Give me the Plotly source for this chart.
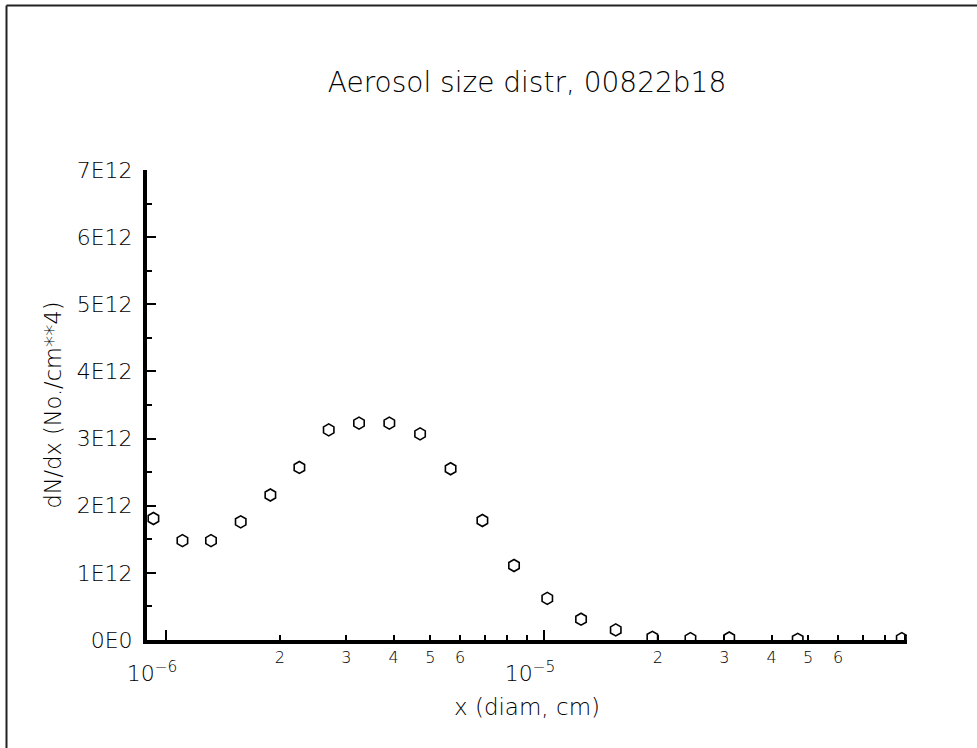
import numpy as np
import plotly.graph_objects as go

# ---- data ----
x_diam = [0.926e-6, 1.105e-6, 1.315e-6, 1.576e-6, 1.888e-6, 2.253e-6, 2.694e-6,
          3.24e-6, 3.897e-6, 4.70e-6, 5.66e-6, 6.87e-6, 8.33e-6, 1.02e-5,
          1.253e-5, 1.548e-5, 1.935e-5, 2.44e-5, 3.09e-5, 4.69e-5, 8.84e-5]
dndx_e12 = [1.81, 1.48, 1.48, 1.76, 2.16, 2.57, 3.13, 3.23, 3.23, 3.07, 2.55,
            1.78, 1.11, 0.62, 0.31, 0.15, 0.04, 0.02, 0.03, 0.01, 0.02]
dndx = [v * 1e12 for v in dndx_e12]

y_tick_vals = [0, 1e12, 2e12, 3e12, 4e12, 5e12, 6e12, 7e12]
y_tick_text = ["0E0", "1E12", "2E12", "3E12", "4E12", "5E12", "6E12", "7E12"]
y_minor_vals = [0.5e12, 1.5e12, 2.5e12, 3.5e12, 4.5e12, 5.5e12, 6.5e12]

x_label_vals = [2e-6, 3e-6, 4e-6, 5e-6, 6e-6, 2e-5, 3e-5, 4e-5, 5e-5, 6e-5]
x_label_text = ["2", "3", "4", "5", "6", "2", "3", "4", "5", "6"]
x_unlabeled_vals = [7e-6, 8e-6, 9e-6, 7e-5, 8e-5, 9e-5]
x_decades = [1e-6, 1e-5]
x_decade_text = ["10<sup>−6</sup>", "10<sup>−5</sup>"]
x_range = [0.8905e-6, 9.127e-5]
y_range = [0, 7e12]

title_text = "Aerosol size distr, 00822b18"
x_title = "x (diam, cm)"
y_title = "dN/dx (No./cm**4)"

# ---- layout geometry ----
W, H = 977, 748
ML, MR, MT, MB = 147, 70, 170, 108
PW, PH = W - ML - MR, H - MT - MB


def px2paper(px, py):
    return (px - ML) / PW, (H - MB - py) / PH


FONT = "DejaVu Sans"
WT = 200


def f(size):
    return dict(family=FONT, size=size, color="black", weight=WT)


log_range = [np.log10(x_range[0]), np.log10(x_range[1])]

fig = go.Figure()
fig.add_trace(go.Scatter(
    x=x_diam, y=dndx, mode="markers",
    marker=dict(symbol="hexagon-open", size=12, color="black",
                line=dict(width=1.6, color="black")),
    showlegend=False, cliponaxis=True,
))
# invisible carrier trace for the decade-tick axis
fig.add_trace(go.Scatter(x=[x_range[0]], y=[0], xaxis="x2", yaxis="y",
                         mode="markers", marker=dict(opacity=0),
                         showlegend=False, hoverinfo="skip"))

fig.update_layout(
    xaxis=dict(
        type="log", range=log_range,
        tickmode="array", tickvals=x_label_vals, ticktext=x_label_text,
        ticks="inside", ticklen=5, tickwidth=1.5, tickcolor="black",
        minor=dict(tickmode="array", tickvals=x_unlabeled_vals, ticks="inside",
                   ticklen=5, tickwidth=1.5, tickcolor="black"),
        tickfont=f(16),
        ticklabelstandoff=0,
        showline=True, linewidth=4, linecolor="black",
        showgrid=False, zeroline=False,
        title=dict(text=x_title, font=f(23), standoff=34),
    ),
    xaxis2=dict(
        type="log", range=log_range, overlaying="x", anchor="y", side="bottom",
        tickmode="array", tickvals=x_decades, ticktext=x_decade_text,
        ticks="inside", ticklen=10, tickwidth=1.5, tickcolor="black",
        tickfont=f(22),
        ticklabelstandoff=18, ticklabelshift=-14,
        showline=False, showgrid=False, zeroline=False,
    ),
    yaxis=dict(
        range=y_range, tickmode="array", tickvals=y_tick_vals, ticktext=y_tick_text,
        ticks="inside", ticklen=9, tickwidth=1.5, tickcolor="black",
        minor=dict(tickmode="array", tickvals=y_minor_vals, ticks="inside",
                   ticklen=5, tickwidth=1.5, tickcolor="black"),
        tickfont=f(22),
        ticklabelstandoff=6,
        showline=True, linewidth=4, linecolor="black",
        showgrid=False, zeroline=False,
        title=dict(text=y_title, font=f(22.5), standoff=10),
    ),
)

# outer frame (left and top edges)
x0, y0 = px2paper(6.5, 5.5)
x1, y1 = px2paper(1100, 900)
fig.add_shape(type="line", xref="paper", yref="paper", x0=x0, y0=y0, x1=x0, y1=y1,
              line=dict(color="#222", width=2))
fig.add_shape(type="line", xref="paper", yref="paper", x0=x0, y0=y0, x1=x1, y1=y0,
              line=dict(color="#222", width=2))

fig.update_layout(
    width=W, height=H,
    margin=dict(l=ML, r=MR, t=MT, b=MB, autoexpand=False),
    paper_bgcolor="white", plot_bgcolor="white",
    title=dict(text=title_text, x=0.5, xref="paper", xanchor="center",
               y=1 - 82 / H, yref="container", yanchor="middle",
               font=f(28)),
    font=dict(family=FONT, color="black", weight=WT),
)

fig.write_html("out.html")
